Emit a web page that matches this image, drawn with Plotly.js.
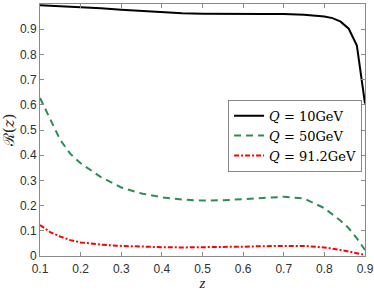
<!DOCTYPE html>
<html>
<head>
<meta charset="utf-8">
<script src="https://cdn.plot.ly/plotly-3.0.1.min.js"></script>
<style>html,body{margin:0;padding:0;background:#fff;}#chart{width:374px;height:291px;}</style>
</head>
<body>
<div id="chart"></div>
<script>
const zValues = [0.1, 0.125, 0.15, 0.175, 0.2, 0.25, 0.3, 0.35, 0.4, 0.45, 0.5, 0.55, 0.6, 0.65, 0.7, 0.75, 0.8, 0.82, 0.84, 0.86, 0.88, 0.9];
const rQ10   = [0.995, 0.993, 0.991, 0.990, 0.988, 0.983, 0.977, 0.972, 0.968, 0.963, 0.961, 0.960, 0.960, 0.960, 0.960, 0.957, 0.950, 0.944, 0.930, 0.902, 0.835, 0.605];
const rQ50   = [0.627, 0.545, 0.460, 0.405, 0.368, 0.313, 0.272, 0.248, 0.233, 0.224, 0.220, 0.221, 0.226, 0.231, 0.235, 0.228, 0.190, 0.165, 0.140, 0.110, 0.070, 0.024];
const rQ912  = [0.123, 0.095, 0.077, 0.063, 0.054, 0.045, 0.040, 0.037, 0.035, 0.034, 0.034, 0.035, 0.037, 0.039, 0.041, 0.040, 0.034, 0.030, 0.024, 0.018, 0.011, 0.004];
const seriesNames = ['<i>Q</i> = 10GeV', '<i>Q</i> = 50GeV', '<i>Q</i> = 91.2GeV'];
const xTicks = [0.1, 0.2, 0.3, 0.4, 0.5, 0.6, 0.7, 0.8, 0.9];
const xTickText = ['0.1', '0.2', '0.3', '0.4', '0.5', '0.6', '0.7', '0.8', '0.9'];
const yTicks = [0, 0.1, 0.2, 0.3, 0.4, 0.5, 0.6, 0.7, 0.8, 0.9, 1];
const yTickText = ['0', '0.1', '0.2', '0.3', '0.4', '0.5', '0.6', '0.7', '0.8', '0.9', '1'];

const traces = [
  {x: zValues, y: rQ10, name: seriesNames[0], mode: 'lines', line: {color: '#000000', width: 2}},
  {x: zValues, y: rQ50, name: seriesNames[1], mode: 'lines', line: {color: '#2e8b57', width: 2, dash: '7px,5px'}},
  {x: zValues, y: rQ912, name: seriesNames[2], mode: 'lines', line: {color: '#ff0000', width: 2, dash: '5px,2px,2px,2px'}}
];

const axisCommon = {
  showgrid: false, zeroline: false, showline: true, linecolor: '#8a8a8a', linewidth: 1,
  mirror: 'ticks', ticks: 'inside', ticklen: 4, tickcolor: '#8a8a8a', tickwidth: 1,
  tickfont: {family: 'Liberation Sans, Arial, sans-serif', size: 12, color: '#303030'}
};

const layout = {
  width: 374, height: 291,
  margin: {l: 40, r: 9, t: 4, b: 35},
  paper_bgcolor: '#ffffff', plot_bgcolor: '#ffffff',
  showlegend: true,
  xaxis: Object.assign({}, axisCommon, {
    range: [0.1, 0.9], tickvals: xTicks, ticktext: xTickText, ticklabelstandoff: 2,
    title: {text: '<i>z</i>', font: {family: 'Liberation Serif, serif', size: 15, color: '#262626'}, standoff: 5}
  }),
  yaxis: Object.assign({}, axisCommon, {
    range: [0, 1], tickvals: yTicks, ticktext: yTickText,
    title: {text: 'ℛ(<i>z</i>)', font: {family: 'DejaVu Serif, serif', size: 15, color: '#262626'}, standoff: 3}
  }),
  legend: {
    x: 0.991, y: 0.62, xanchor: 'right', yanchor: 'top',
    bgcolor: '#ffffff', bordercolor: '#8a8a8a', borderwidth: 1,
    font: {family: 'DejaVu Serif, serif', size: 13, color: '#000000'},
    itemwidth: 30, tracegroupgap: 0
  }
};

Plotly.newPlot('chart', traces, layout, {displayModeBar: false, staticPlot: true});
</script>
</body>
</html>
